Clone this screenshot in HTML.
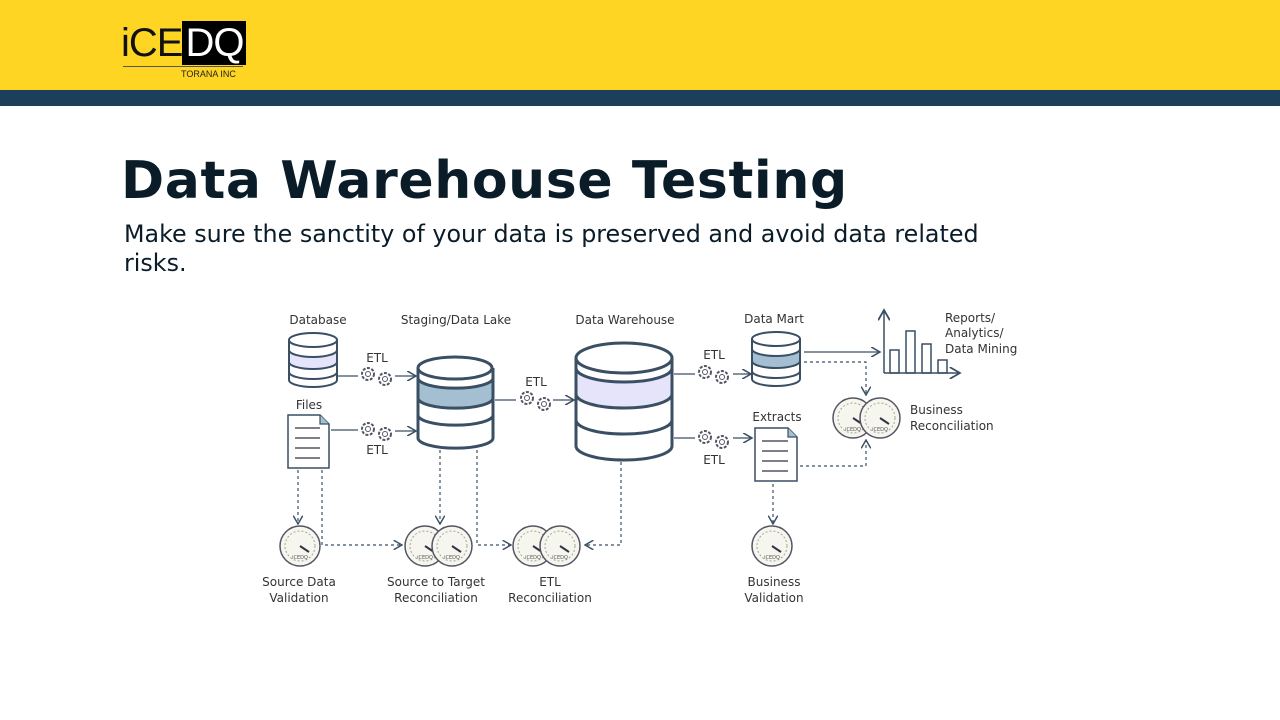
<!DOCTYPE html>
<html><head><meta charset="utf-8"><style>
body{margin:0;width:1280px;height:720px;background:#fff;overflow:hidden;font-family:"DejaVu Sans","Liberation Sans",sans-serif;position:relative}
.top{position:absolute;left:0;top:0;width:1280px;height:90px;background:#fdd522}
.bar{position:absolute;left:0;top:90px;width:1280px;height:16px;background:#1c3f5c}
h1{position:absolute;left:121px;top:151px;margin:0;font-size:52px;font-weight:bold;color:#0b1c29;letter-spacing:0.6px}
p{position:absolute;left:124px;top:220px;margin:0;font-size:23.8px;line-height:29px;color:#0b1c29;width:900px}
</style></head><body>
<div class="top"></div><div class="bar"></div>
<div style="position:absolute;left:121px;top:21px;font-family:'Liberation Sans',sans-serif;font-size:40px;line-height:44px;color:#111;letter-spacing:-1px">iCE<span style="background:#000;color:#fff;padding:0 3px 0 3px">DQ</span></div>
<div style="position:absolute;left:123px;top:66px;width:120px;height:1px;background:#555"></div>
<div style="position:absolute;left:181px;top:69px;font-family:'Liberation Sans',sans-serif;font-size:9px;color:#222">TORANA INC</div>
<h1>Data Warehouse Testing</h1>
<p>Make sure the sanctity of your data is preserved and avoid data related risks.</p>
<svg style="position:absolute;left:0;top:0" width="1280" height="720" font-family="'DejaVu Sans',sans-serif" font-size="12" fill="#333">
<defs><marker id="a" markerWidth="8" markerHeight="8" refX="7" refY="4" orient="auto"><path d="M0,0L7,4L0,8" fill="none" stroke="#3a4f63" stroke-width="1.2"/></marker>
<g id="g"><circle r="20" fill="#f6f6ee" stroke="#556" stroke-width="1.5"/><circle r="15" fill="none" stroke="#9a9" stroke-dasharray="2 2"/><line x1="0" y1="0" x2="9" y2="6" stroke="#334" stroke-width="2"/><text y="13" font-size="5" text-anchor="middle" fill="#555">iCEDQ</text></g>
<g id="c"><circle r="6" fill="#fff" stroke="#556" stroke-dasharray="3 1.5" stroke-width="2"/><circle r="2.5" fill="none" stroke="#556"/></g></defs>
<g stroke="#3a4f63" stroke-width="2" fill="#fff">
<path d="M289,340 v40 a24,7 0 0 0 48,0 v-40"/><path d="M289,350 a24,7 0 0 0 48,0 v12 a24,7 0 0 1 -48,0z" fill="#e6e4fa"/><path d="M289,372 a24,7 0 0 0 48,0" fill="none"/><ellipse cx="313" cy="340" rx="24" ry="7"/>
<path d="M418,368 v70 a37,10 0 0 0 75,0 v-70" stroke-width="3"/><path d="M418,378 a37,10 0 0 0 75,0 v20 a37,10 0 0 1 -75,0z" fill="#a4bfd1" stroke-width="3"/><path d="M418,415 a37,10 0 0 0 75,0" fill="none" stroke-width="3"/><ellipse cx="455" cy="368" rx="37" ry="11" stroke-width="3"/>
<path d="M576,358 v88 a48,14 0 0 0 96,0 v-88" stroke-width="3"/><path d="M576,368 a48,14 0 0 0 96,0 v26 a48,14 0 0 1 -96,0z" fill="#e6e4fa" stroke-width="3"/><path d="M576,420 a48,14 0 0 0 96,0" fill="none" stroke-width="3"/><ellipse cx="624" cy="358" rx="48" ry="15" stroke-width="3"/>
<path d="M752,339 v40 a24,7 0 0 0 48,0 v-40"/><path d="M752,349 a24,7 0 0 0 48,0 v12 a24,7 0 0 1 -48,0z" fill="#a4bfd1"/><path d="M752,371 a24,7 0 0 0 48,0" fill="none"/><ellipse cx="776" cy="339" rx="24" ry="7"/>
<path d="M288,415 h32 l9,9 v44 h-41z" stroke-width="1.5"/><path d="M320,415 v9 h9" fill="#a4bfd1" stroke-width="1.2"/>
<path d="M755,428 h33 l9,9 v44 h-42z" stroke-width="1.5"/><path d="M788,428 v9 h9" fill="#a4bfd1" stroke-width="1.2"/>
</g>
<g stroke="#556" stroke-width="1.5"><line x1="295" y1="428" x2="320" y2="428"/><line x1="295" y1="438" x2="320" y2="438"/><line x1="295" y1="448" x2="320" y2="448"/><line x1="295" y1="458" x2="320" y2="458"/>
<line x1="762" y1="441" x2="788" y2="441"/><line x1="762" y1="451" x2="788" y2="451"/><line x1="762" y1="461" x2="788" y2="461"/><line x1="762" y1="471" x2="788" y2="471"/></g>
<g stroke="#3a4f63" stroke-width="1.5" fill="none"><path d="M884,373 V310" marker-end="url(#a)"/><path d="M884,373 H960" marker-end="url(#a)"/>
<rect x="890" y="350" width="9" height="23"/><rect x="906" y="331" width="9" height="42"/><rect x="922" y="344" width="9" height="29"/><rect x="938" y="360" width="9" height="13"/></g>
<g stroke="#3a4f63" stroke-width="1.3" fill="none">
<path d="M338,376 H358"/><path d="M395,376 H416" marker-end="url(#a)"/>
<path d="M331,430 H358"/><path d="M395,431 H416" marker-end="url(#a)"/>
<path d="M495,400 H516"/><path d="M553,400 H574" marker-end="url(#a)"/>
<path d="M674,374 H695"/><path d="M733,374 H751" marker-end="url(#a)"/>
<path d="M674,438 H695"/><path d="M733,438 H752" marker-end="url(#a)"/>
<path d="M804,352 H880" marker-end="url(#a)"/>
</g>
<g stroke="#3a4f63" stroke-width="1.2" fill="none" stroke-dasharray="3 3">
<path d="M298,470 V524" marker-end="url(#a)"/>
<path d="M322,470 V545 H402" marker-end="url(#a)"/>
<path d="M440,450 V524" marker-end="url(#a)"/>
<path d="M477,450 V545 H511" marker-end="url(#a)"/>
<path d="M621,462 V545 H585" marker-end="url(#a)"/>
<path d="M773,484 V524" marker-end="url(#a)"/>
<path d="M800,466 H866 V440" marker-end="url(#a)"/>
<path d="M804,362 H866 V395" marker-end="url(#a)"/>
</g>
<g><use href="#c" x="368" y="374"/><use href="#c" x="385" y="379"/><use href="#c" x="368" y="429"/><use href="#c" x="385" y="434"/><use href="#c" x="527" y="398"/><use href="#c" x="544" y="404"/><use href="#c" x="705" y="372"/><use href="#c" x="722" y="377"/><use href="#c" x="705" y="437"/><use href="#c" x="722" y="442"/></g>
<g><use href="#g" x="300" y="546"/><use href="#g" x="425" y="546"/><use href="#g" x="452" y="546"/><use href="#g" x="533" y="546"/><use href="#g" x="560" y="546"/><use href="#g" x="772" y="546"/><use href="#g" x="853" y="418"/><use href="#g" x="880" y="418"/></g>
<g text-anchor="middle"><text x="318" y="324">Database</text><text x="456" y="324">Staging/Data Lake</text><text x="625" y="324">Data Warehouse</text><text x="774" y="323">Data Mart</text>
<text x="309" y="409">Files</text><text x="377" y="362">ETL</text><text x="377" y="454">ETL</text><text x="536" y="386">ETL</text><text x="714" y="359">ETL</text><text x="714" y="464">ETL</text><text x="777" y="421">Extracts</text>
<text x="299" y="586">Source Data</text><text x="299" y="602">Validation</text><text x="436" y="586">Source to Target</text><text x="436" y="602">Reconciliation</text><text x="550" y="586">ETL</text><text x="550" y="602">Reconciliation</text><text x="774" y="586">Business</text><text x="774" y="602">Validation</text></g>
<text x="945" y="322">Reports/</text><text x="945" y="337">Analytics/</text><text x="945" y="353">Data Mining</text><text x="910" y="414">Business</text><text x="910" y="430">Reconciliation</text>
</svg>
</body></html>
